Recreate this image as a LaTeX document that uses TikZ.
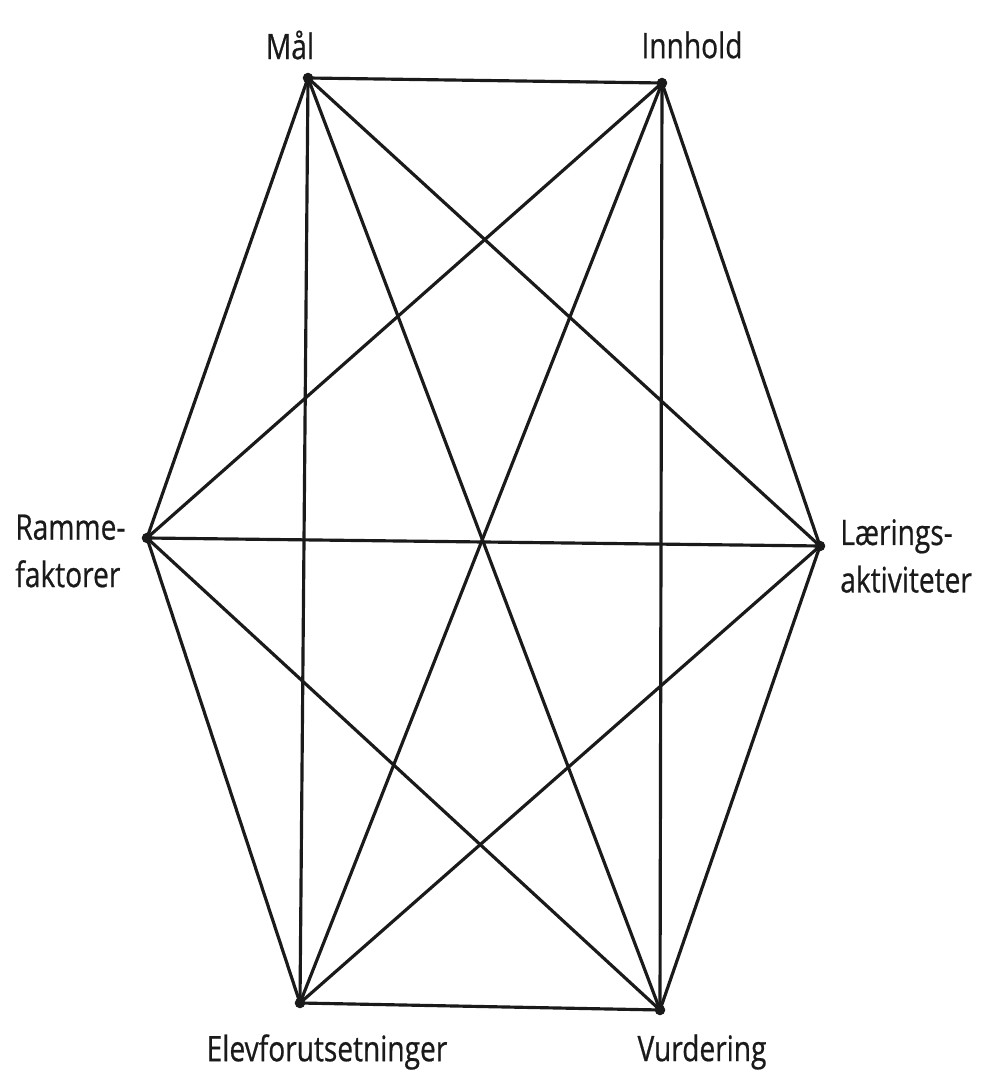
\documentclass[tikz,border=0pt]{standalone}
\usepackage{fontspec}
\setmainfont[FakeStretch=0.8, FakeBold=0.6]{Open Sans}
\usepackage{tikz}
\usetikzlibrary{positioning}
\definecolor{linedark}{HTML}{1A1A1A}

\tikzset{
  corner/.style={circle, fill=linedark, inner sep=0pt, minimum size=6pt},
  lbl/.style={font=\fontsize{20}{27}\selectfont, text=linedark, inner sep=0pt},
  edge/.style={linedark, line width=1.8pt},
}

\begin{document}
\begin{tikzpicture}
  \useasboundingbox (0,0) rectangle (19.68,21.70);
  % corners of the hexagon
  \node[corner] (maal) at (6.16,20.14) {};
  \node[corner] (innhold) at (13.24,20.04) {};
  \node[corner] (ramme) at (2.94,10.94) {};
  \node[corner] (laering) at (16.40,10.78) {};
  \node[corner] (elev) at (6.00,1.64) {};
  \node[corner] (vurd) at (13.20,1.50) {};
  % every pair is connected
  \foreach \a/\b in {maal/innhold, maal/ramme, maal/laering, maal/elev, maal/vurd,
                     innhold/ramme, innhold/laering, innhold/elev, innhold/vurd,
                     ramme/laering, ramme/elev, ramme/vurd,
                     laering/elev, laering/vurd,
                     elev/vurd}
    \draw[edge] (\a.center) -- (\b.center);
  % labels
  \node[lbl] (maaltxt) at (5.80,20.80) {Mål};
  \node[lbl] (innholdtxt) at (13.84,20.80) {Innhold};
  \node[lbl, anchor=west, align=left] (rammetxt) at (0.30,10.68) {Ramme-\\faktorer};
  \node[lbl, anchor=west, align=left] (laeringtxt) at (16.80,10.58) {Lærings-\\aktiviteter};
  \node[lbl] (elevtxt) at (6.54,0.66) {Elevforutsetninger};
  \node[lbl] (vurdtxt) at (14.04,0.66) {Vurdering};
\end{tikzpicture}
\end{document}
